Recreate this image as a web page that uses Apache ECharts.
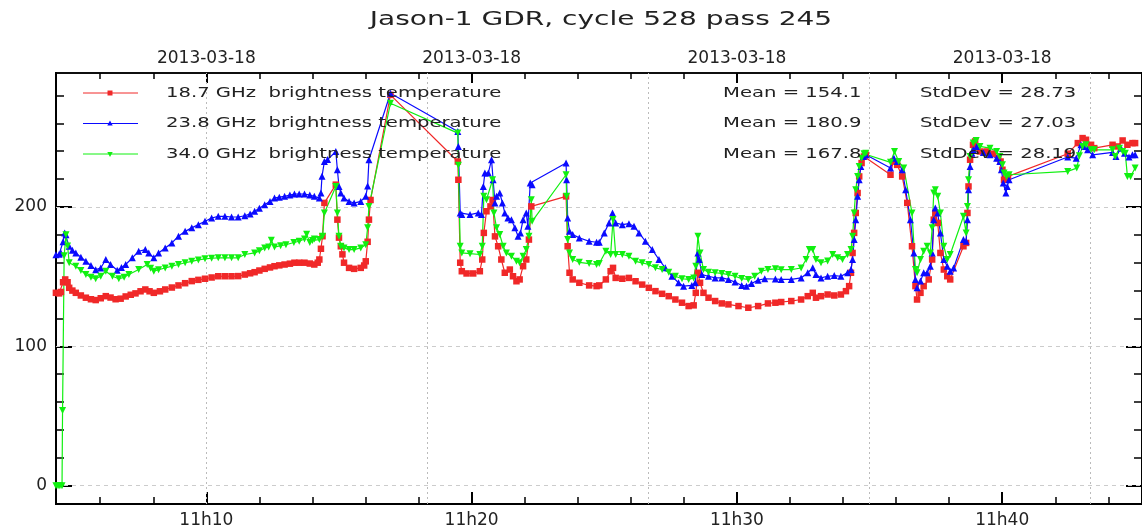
<!DOCTYPE html>
<html><head><meta charset="utf-8">
<script src="https://cdn.jsdelivr.net/npm/echarts@6/dist/echarts.min.js"></script>
<style>html,body{margin:0;padding:0;background:#fff}#c{width:1142px;height:529px}</style>
</head><body><div id="c"></div>
<script>
// ---------- texts ----------
const titleText = 'Jason-1 GDR, cycle 528 pass 245';
const seriesNames = ['18.7 GHz  brightness temperature', '23.8 GHz  brightness temperature', '34.0 GHz  brightness temperature'];
const meanLabels = ['Mean = 154.1', 'Mean = 180.9', 'Mean = 167.8'];
const stdLabels = ['StdDev = 28.73', 'StdDev = 27.03', 'StdDev = 28.19'];
const topTickLabel = '2013-03-18';
// ---------- ticks (x in minutes after 11h00) ----------
const xMajorTicks = [10, 20, 30, 40];
const xMinorTicks = [6, 8, 12, 14, 16, 18, 22, 24, 26, 28, 32, 34, 36, 38, 42, 44];
const xGridLines = [10, 18.333, 26.667, 35, 43.333];
const yMajorTicks = [0, 100, 200];
const yMinorTicks = [20, 40, 60, 80, 120, 140, 160, 180, 220, 240, 260, 280];
// ---------- data: [minutes after 11h00, brightness temperature] ----------
const tb187 = [[4.33,138.4],[4.45,138],[4.52,139],[4.6,146],[4.68,148],[4.77,146],[4.83,142],[4.95,140],[5.08,138.4],[5.27,136.5],[5.46,134.9],[5.65,133.8],[5.83,133.2],[6.02,134.5],[6.21,136],[6.39,135],[6.58,133.8],[6.77,134.2],[6.96,135.8],[7.15,137],[7.33,138],[7.52,139.5],[7.7,140.8],[7.86,139.5],[8.02,138.4],[8.25,139.5],[8.45,140.8],[8.7,142.2],[8.95,143.7],[9.2,145.3],[9.45,146.8],[9.7,147.7],[9.95,148.5],[10.2,149.4],[10.45,150.3],[10.7,150.3],[10.95,150.3],[11.2,150.4],[11.45,151.5],[11.65,152.4],[11.82,153.2],[12.0,154.4],[12.2,155.6],[12.4,156.6],[12.57,157.5],[12.75,158.1],[12.95,158.7],[13.15,159.3],[13.32,160],[13.5,160],[13.7,160],[13.9,159.4],[14.07,158.7],[14.2,160],[14.26,162.3],[14.32,170],[14.38,179],[14.45,202.9],[14.88,216],[14.94,190.9],[15.0,178],[15.07,171.8],[15.13,166],[15.19,160],[15.38,156.3],[15.57,155.6],[15.82,156.3],[15.95,158],[16.01,161],[16.08,175],[16.13,190.9],[16.19,205],[16.94,280.4],[19.48,232.6],[19.5,219.5],[19.57,160],[19.63,153.9],[19.81,152.3],[20.06,152.3],[20.31,153.9],[20.4,162.3],[20.46,181.4],[20.56,196.9],[20.71,200.4],[20.79,205],[20.88,178.9],[21.0,171.8],[21.12,162.3],[21.25,152.8],[21.44,155.1],[21.56,150.3],[21.69,146.7],[21.81,148],[21.94,157.5],[22.06,162.3],[22.16,176.6],[22.25,200.4],[23.56,207.6],[23.62,171.8],[23.69,152.8],[23.81,148],[24.06,145.6],[24.43,143.7],[24.71,143.2],[24.81,143.7],[25.06,148],[25.24,153.9],[25.33,156.3],[25.43,149.1],[25.68,148.5],[25.93,149.1],[26.18,146.7],[26.43,144.3],[26.68,142],[26.93,139.6],[27.18,137.7],[27.43,136],[27.68,133.6],[27.93,131.3],[28.18,128.9],[28.37,129.4],[28.45,138.4],[28.53,152.8],[28.61,145.6],[28.74,138.4],[28.93,134.9],[29.18,132.5],[29.43,130.8],[29.68,130.1],[30.06,128.9],[30.43,127.7],[30.8,128.9],[31.17,130.8],[31.45,131.3],[31.67,131.8],[32.05,132.5],[32.42,133.6],[32.67,136],[32.86,138.4],[32.98,134.9],[33.17,136],[33.42,137.2],[33.67,136.5],[33.92,137.2],[34.11,139.6],[34.23,143.2],[34.3,152.8],[34.36,167],[34.42,181.4],[34.48,195.7],[34.55,210],[34.61,221.9],[34.7,231.5],[34.79,236.2],[34.86,237.4],[35.79,223.1],[35.89,232.6],[36.04,230.2],[36.23,221.9],[36.42,202.9],[36.6,171.8],[36.73,143.2],[36.79,133.6],[36.92,138.4],[37.04,143.2],[37.23,148],[37.36,162.3],[37.42,190.9],[37.48,195.7],[37.57,188.5],[37.67,167],[37.8,155.1],[37.93,150.3],[38.04,148],[38.54,171.8],[38.64,174.2],[38.69,195.7],[38.73,214.7],[38.79,233.9],[38.9,244.6],[38.98,247],[39.16,239.8],[39.41,239.8],[39.66,238.2],[39.85,235.1],[39.94,232.6],[40.01,226.7],[40.07,219.5],[40.14,219.5],[40.22,221.9],[42.47,238.2],[42.85,245.8],[43.03,249.4],[43.16,248.2],[43.35,244.6],[43.47,242.2],[44.16,244.6],[44.35,243.4],[44.54,247.7],[44.72,244.6],[44.91,245.8],[45.01,245.8]];
const tb238 = [[4.33,165.7],[4.45,166],[4.52,167],[4.6,175],[4.66,181.4],[4.71,180],[4.83,171.8],[4.95,169],[5.08,167],[5.27,164],[5.46,161],[5.65,158],[5.83,155],[6.02,156.2],[6.21,162.3],[6.39,158.7],[6.64,154.6],[6.8,156.5],[6.96,158.7],[7.21,163.5],[7.45,168.2],[7.7,169.4],[7.83,167],[8.02,163.5],[8.2,167],[8.45,170.6],[8.7,174.2],[8.95,179],[9.2,182.5],[9.45,185],[9.7,187.3],[9.95,189.7],[10.2,192.1],[10.45,193.3],[10.7,193.3],[10.95,192.8],[11.2,192.8],[11.45,193.7],[11.65,195],[11.82,196.9],[12.0,199],[12.2,201.6],[12.4,204],[12.57,206.4],[12.75,207],[12.95,207.6],[13.15,208.5],[13.32,209.3],[13.5,209.3],[13.7,209.3],[13.9,208.5],[14.07,207.6],[14.26,206.4],[14.32,210],[14.36,222],[14.45,232.6],[14.57,234],[14.88,239.8],[14.94,226.7],[15.0,214.7],[15.07,210],[15.19,206.4],[15.38,204],[15.57,202.8],[15.82,204],[16.01,207.6],[16.08,215],[16.13,233.9],[16.94,281.6],[19.48,254.1],[19.5,243.4],[19.57,195.7],[19.63,194.5],[19.94,194.5],[20.25,195.7],[20.37,194.5],[20.44,214.7],[20.5,224.3],[20.63,224.3],[20.75,233.9],[20.81,219.5],[20.88,202.9],[20.94,207.6],[21.06,210],[21.16,202.9],[21.25,195.7],[21.37,192.1],[21.5,190.9],[21.63,185],[21.75,179],[21.84,181.4],[21.94,190.9],[22.06,195.7],[22.12,186.2],[22.21,217.2],[22.28,216],[23.56,231.5],[23.58,219.5],[23.62,192],[23.69,182.5],[23.81,180.2],[24.06,177.8],[24.43,175.4],[24.71,174.7],[24.81,174.7],[25.0,181.4],[25.18,188.5],[25.31,195.7],[25.43,188.5],[25.68,187.3],[25.93,188],[26.12,186.2],[26.31,181.4],[26.55,175.4],[26.81,169.4],[27.06,162.3],[27.3,156.3],[27.55,150.3],[27.8,145.6],[27.99,143.2],[28.3,143.7],[28.43,145.6],[28.53,167],[28.58,162.3],[28.68,151.5],[28.93,150.3],[29.18,149.1],[29.43,149.1],[29.68,148],[29.93,146.1],[30.18,143.7],[30.36,143.2],[30.55,145.1],[30.8,147.5],[31.05,148.5],[31.45,148.3],[31.67,148],[32.05,148],[32.42,149.1],[32.67,152.8],[32.86,156.3],[32.98,151.5],[33.17,149.1],[33.42,150.3],[33.67,150.8],[33.92,150.3],[34.17,152.8],[34.3,155.1],[34.36,162.3],[34.42,176.6],[34.48,190.9],[34.55,207.6],[34.61,219.5],[34.67,229],[34.77,236.2],[34.86,237.4],[35.79,228],[35.92,235],[36.04,232.6],[36.23,226.7],[36.36,212.4],[36.54,190.9],[36.67,167],[36.73,148],[36.79,142],[36.92,146.8],[37.04,152.8],[37.17,152.8],[37.29,157.5],[37.36,167],[37.42,190.9],[37.48,199.3],[37.57,195.7],[37.67,181.4],[37.8,162.3],[37.93,157.5],[38.04,153.9],[38.17,156.2],[38.54,176.6],[38.64,175.4],[38.69,190.9],[38.73,212.4],[38.79,229],[38.86,238.6],[38.91,241],[39.04,243.4],[39.29,239.1],[39.54,237.4],[39.79,235],[39.91,232.6],[39.97,226.7],[40.04,217.2],[40.14,210],[40.19,214.7],[40.26,219.5],[42.47,235.8],[42.79,235],[42.97,244.6],[43.1,243.4],[43.22,241],[43.41,237.4],[44.16,239.1],[44.29,236.2],[44.48,242.2],[44.61,238.6],[44.78,235.8],[44.91,237.4],[45.01,237.4]];
const tb340 = [[4.33,0],[4.41,0],[4.48,0],[4.56,0],[4.58,54],[4.64,165],[4.71,180],[4.77,172],[4.83,160],[5.08,157.5],[5.27,154.5],[5.46,151.5],[5.65,149.5],[5.83,148.5],[6.02,150.3],[6.21,153.9],[6.46,150.3],[6.7,148.5],[6.9,149.5],[7.08,151.5],[7.45,155.1],[7.77,158.7],[7.9,156],[8.02,153.9],[8.2,155],[8.45,156.2],[8.7,157.5],[8.95,158.7],[9.2,160],[9.45,161],[9.7,162],[9.95,162.8],[10.2,163.2],[10.45,163.5],[10.7,163.5],[10.95,163.5],[11.2,163.5],[11.45,165.9],[11.82,167],[12.0,168.5],[12.2,170.6],[12.35,171.2],[12.45,176.1],[12.57,171.2],[12.8,172.2],[13.0,172.9],[13.3,174.5],[13.5,175.4],[13.7,177],[13.78,180.5],[13.9,174.5],[14.0,176],[14.07,177],[14.26,176.6],[14.38,178.9],[14.45,195.7],[14.88,214.7],[14.94,195.7],[15.0,178.9],[15.07,171.8],[15.19,170.6],[15.38,169.4],[15.57,169.4],[15.82,170.6],[16.01,172.9],[16.08,185],[16.13,200.4],[16.94,274.4],[19.48,253],[19.5,230],[19.57,171.8],[19.63,167],[19.94,166.5],[20.31,165.9],[20.4,171.8],[20.46,207.6],[20.56,205.2],[20.79,219.5],[20.84,195.7],[20.94,185],[21.06,180.2],[21.19,171.8],[21.31,167],[21.5,164.7],[21.69,161],[21.81,159.9],[21.94,164.7],[22.06,169.4],[22.16,178.9],[22.25,205.2],[22.28,189.7],[23.56,223.1],[23.58,207.6],[23.62,176.6],[23.69,167],[23.81,162.3],[24.06,160.3],[24.43,159.4],[24.71,158.7],[24.81,159.4],[25.06,168.2],[25.24,165.9],[25.33,191],[25.43,165.9],[25.68,165.9],[25.93,164.7],[26.18,161],[26.43,159.9],[26.68,158.7],[26.93,156.3],[27.18,155.1],[27.43,153.2],[27.68,150.3],[27.93,148.5],[28.18,148],[28.37,149.1],[28.45,157.5],[28.53,179],[28.61,167],[28.74,155.1],[28.93,153.2],[29.18,152.8],[29.43,152.3],[29.68,151.5],[29.93,150.3],[30.18,148.6],[30.43,148],[30.67,150.3],[30.92,153.9],[31.17,155.1],[31.45,155.6],[31.67,155],[32.05,155.1],[32.42,156.2],[32.61,162.3],[32.73,169.4],[32.86,169.4],[32.98,162.3],[33.17,160],[33.42,161.2],[33.61,165.9],[33.8,163.5],[33.98,162.3],[34.17,165.9],[34.3,169.4],[34.36,178.9],[34.42,195.7],[34.48,212.4],[34.55,221.9],[34.61,229],[34.7,235],[34.79,238.2],[34.86,238.6],[35.79,232],[35.94,239.8],[36.1,232.6],[36.29,228],[36.6,195.7],[36.73,155.1],[36.79,152.8],[36.92,162.3],[37.04,168.2],[37.17,171.8],[37.29,167],[37.36,185],[37.42,210],[37.48,212.4],[37.57,207.6],[37.67,195.7],[37.8,171.8],[37.93,162.3],[38.04,165.9],[38.54,193.3],[38.64,181.4],[38.69,200.4],[38.73,219.5],[38.79,236.2],[38.91,245.8],[39.02,247.7],[39.16,243.4],[39.54,242.2],[39.79,239.8],[39.91,236.2],[40.01,230.3],[40.07,224.3],[40.16,221.9],[40.26,223.1],[42.47,225.5],[42.81,227.9],[42.91,236.7],[43.03,243.4],[43.16,244.6],[43.35,241],[43.47,241],[44.16,241],[44.26,236.2],[44.42,242.2],[44.54,239.8],[44.64,238.6],[44.72,221.9],[44.84,221.9],[45.01,228]];

const colors = ['#f02828', '#0a0aff', '#10f010'];
const FONT = '"DejaVu Sans", sans-serif';
const X_MIN = 4.333, X_MAX = 45.27, Y_MIN = -13.1, Y_MAX = 296.1;

function xAxisDef(position, ticks, len, width, labelFn, margin) {
  return {
    type: 'value', position, min: X_MIN, max: X_MAX,
    axisLine: { show: true, onZero: false, lineStyle: { color: '#000', width: position === 'bottom' ? 2 : 1.5 } },
    axisTick: { show: true, inside: true, length: len, customValues: ticks, lineStyle: { color: '#000', width } },
    axisLabel: labelFn ? { show: true, customValues: ticks, formatter: labelFn, fontFamily: FONT, fontSize: 17, color: '#222', margin } : { show: false },
    splitLine: { show: false }
  };
}
function yAxisDef(position, ticks, len, width, labelFn) {
  return {
    type: 'value', position, min: Y_MIN, max: Y_MAX,
    axisLine: { show: true, onZero: false, lineStyle: { color: '#000', width: 2 } },
    axisTick: { show: true, inside: true, length: len, customValues: ticks, lineStyle: { color: '#000', width } },
    axisLabel: labelFn ? { show: true, customValues: ticks, formatter: labelFn, fontFamily: FONT, fontSize: 17, color: '#222', margin: 9 } : { show: false },
    splitLine: { show: false }
  };
}

const symbols = ['rect', 'triangle', 'triangle'];
const rotations = [0, 0, 180];
const sizes = [6.5, 7, 7];
const datasets = [tb187, tb238, tb340];

const series = datasets.map((d, i) => ({
  type: 'line', name: seriesNames[i], data: d,
  symbol: symbols[i], symbolRotate: rotations[i], symbolSize: sizes[i],
  showSymbol: true, showAllSymbol: true,
  lineStyle: { color: colors[i], width: 1.2 }, itemStyle: { color: colors[i] },
  animation: false, silent: true, z: 3
}));
series.unshift({
  type: 'line', data: [], silent: true, z: 1, animation: false,
  markLine: {
    silent: true, symbol: 'none', z: 1, animation: false, label: { show: false },
    data: xGridLines.map(v => ({ xAxis: v, lineStyle: { type: [2, 3], color: '#bbb', width: 1 } }))
      .concat(yMajorTicks.map(v => ({ yAxis: v, lineStyle: { type: [4, 4], color: '#ccc', width: 1 } })))
  }
});

const rowsY = [93, 123.5, 154];
const graphics = [{
  type: 'text', x: 601, y: 20, scaleX: 1.4, z: 10,
  style: { text: titleText, font: '20px ' + FONT, fill: '#222', textAlign: 'center', verticalAlign: 'middle' }
}];
rowsY.forEach((y, i) => {
  graphics.push({ type: 'line', shape: { x1: 83, y1: y, x2: 138, y2: y }, style: { stroke: colors[i], lineWidth: 1 }, z: 10 });
  if (i === 0) graphics.push({ type: 'rect', shape: { x: 107.5, y: y - 2.5, width: 5, height: 5 }, style: { fill: colors[i] }, z: 10 });
  else if (i === 1) graphics.push({ type: 'polygon', shape: { points: [[110, y - 3], [112.7, y + 2], [107.3, y + 2]] }, style: { fill: colors[i] }, z: 10 });
  else graphics.push({ type: 'polygon', shape: { points: [[110, y + 3], [112.7, y - 2], [107.3, y - 2]] }, style: { fill: colors[i] }, z: 10 });
  graphics.push({ type: 'text', x: 166, y, scaleX: 1.4, z: 10, style: { text: seriesNames[i], font: '14px ' + FONT, fill: '#222', verticalAlign: 'middle' } });
  graphics.push({ type: 'text', x: 723, y, scaleX: 1.4, z: 10, style: { text: meanLabels[i], font: '14px ' + FONT, fill: '#222', verticalAlign: 'middle' } });
  graphics.push({ type: 'text', x: 920, y, scaleX: 1.4, z: 10, style: { text: stdLabels[i], font: '14px ' + FONT, fill: '#222', verticalAlign: 'middle' } });
});

const chart = echarts.init(document.getElementById('c'), null, { renderer: 'canvas' });
chart.setOption({
  backgroundColor: '#fff',
  animation: false,
  textStyle: { fontFamily: FONT },
  grid: { left: 56, top: 73, width: 1093, height: 432, containLabel: false },
  xAxis: [
    xAxisDef('bottom', xMajorTicks, 12, 2, v => '11h' + Math.round(v), 8),
    xAxisDef('bottom', xMinorTicks, 7, 1.5, null),
    xAxisDef('top', xMajorTicks, 10, 2, () => topTickLabel, 6),
    xAxisDef('top', xMinorTicks, 6, 1.5, null)
  ],
  yAxis: [
    yAxisDef('left', yMajorTicks, 16, 2, v => String(Math.round(v))),
    yAxisDef('left', yMinorTicks, 8, 1.5, null),
    yAxisDef('right', yMajorTicks, 16, 2, null),
    yAxisDef('right', yMinorTicks, 8, 1.5, null)
  ],
  series,
  graphic: graphics
});
</script>
</body></html>
